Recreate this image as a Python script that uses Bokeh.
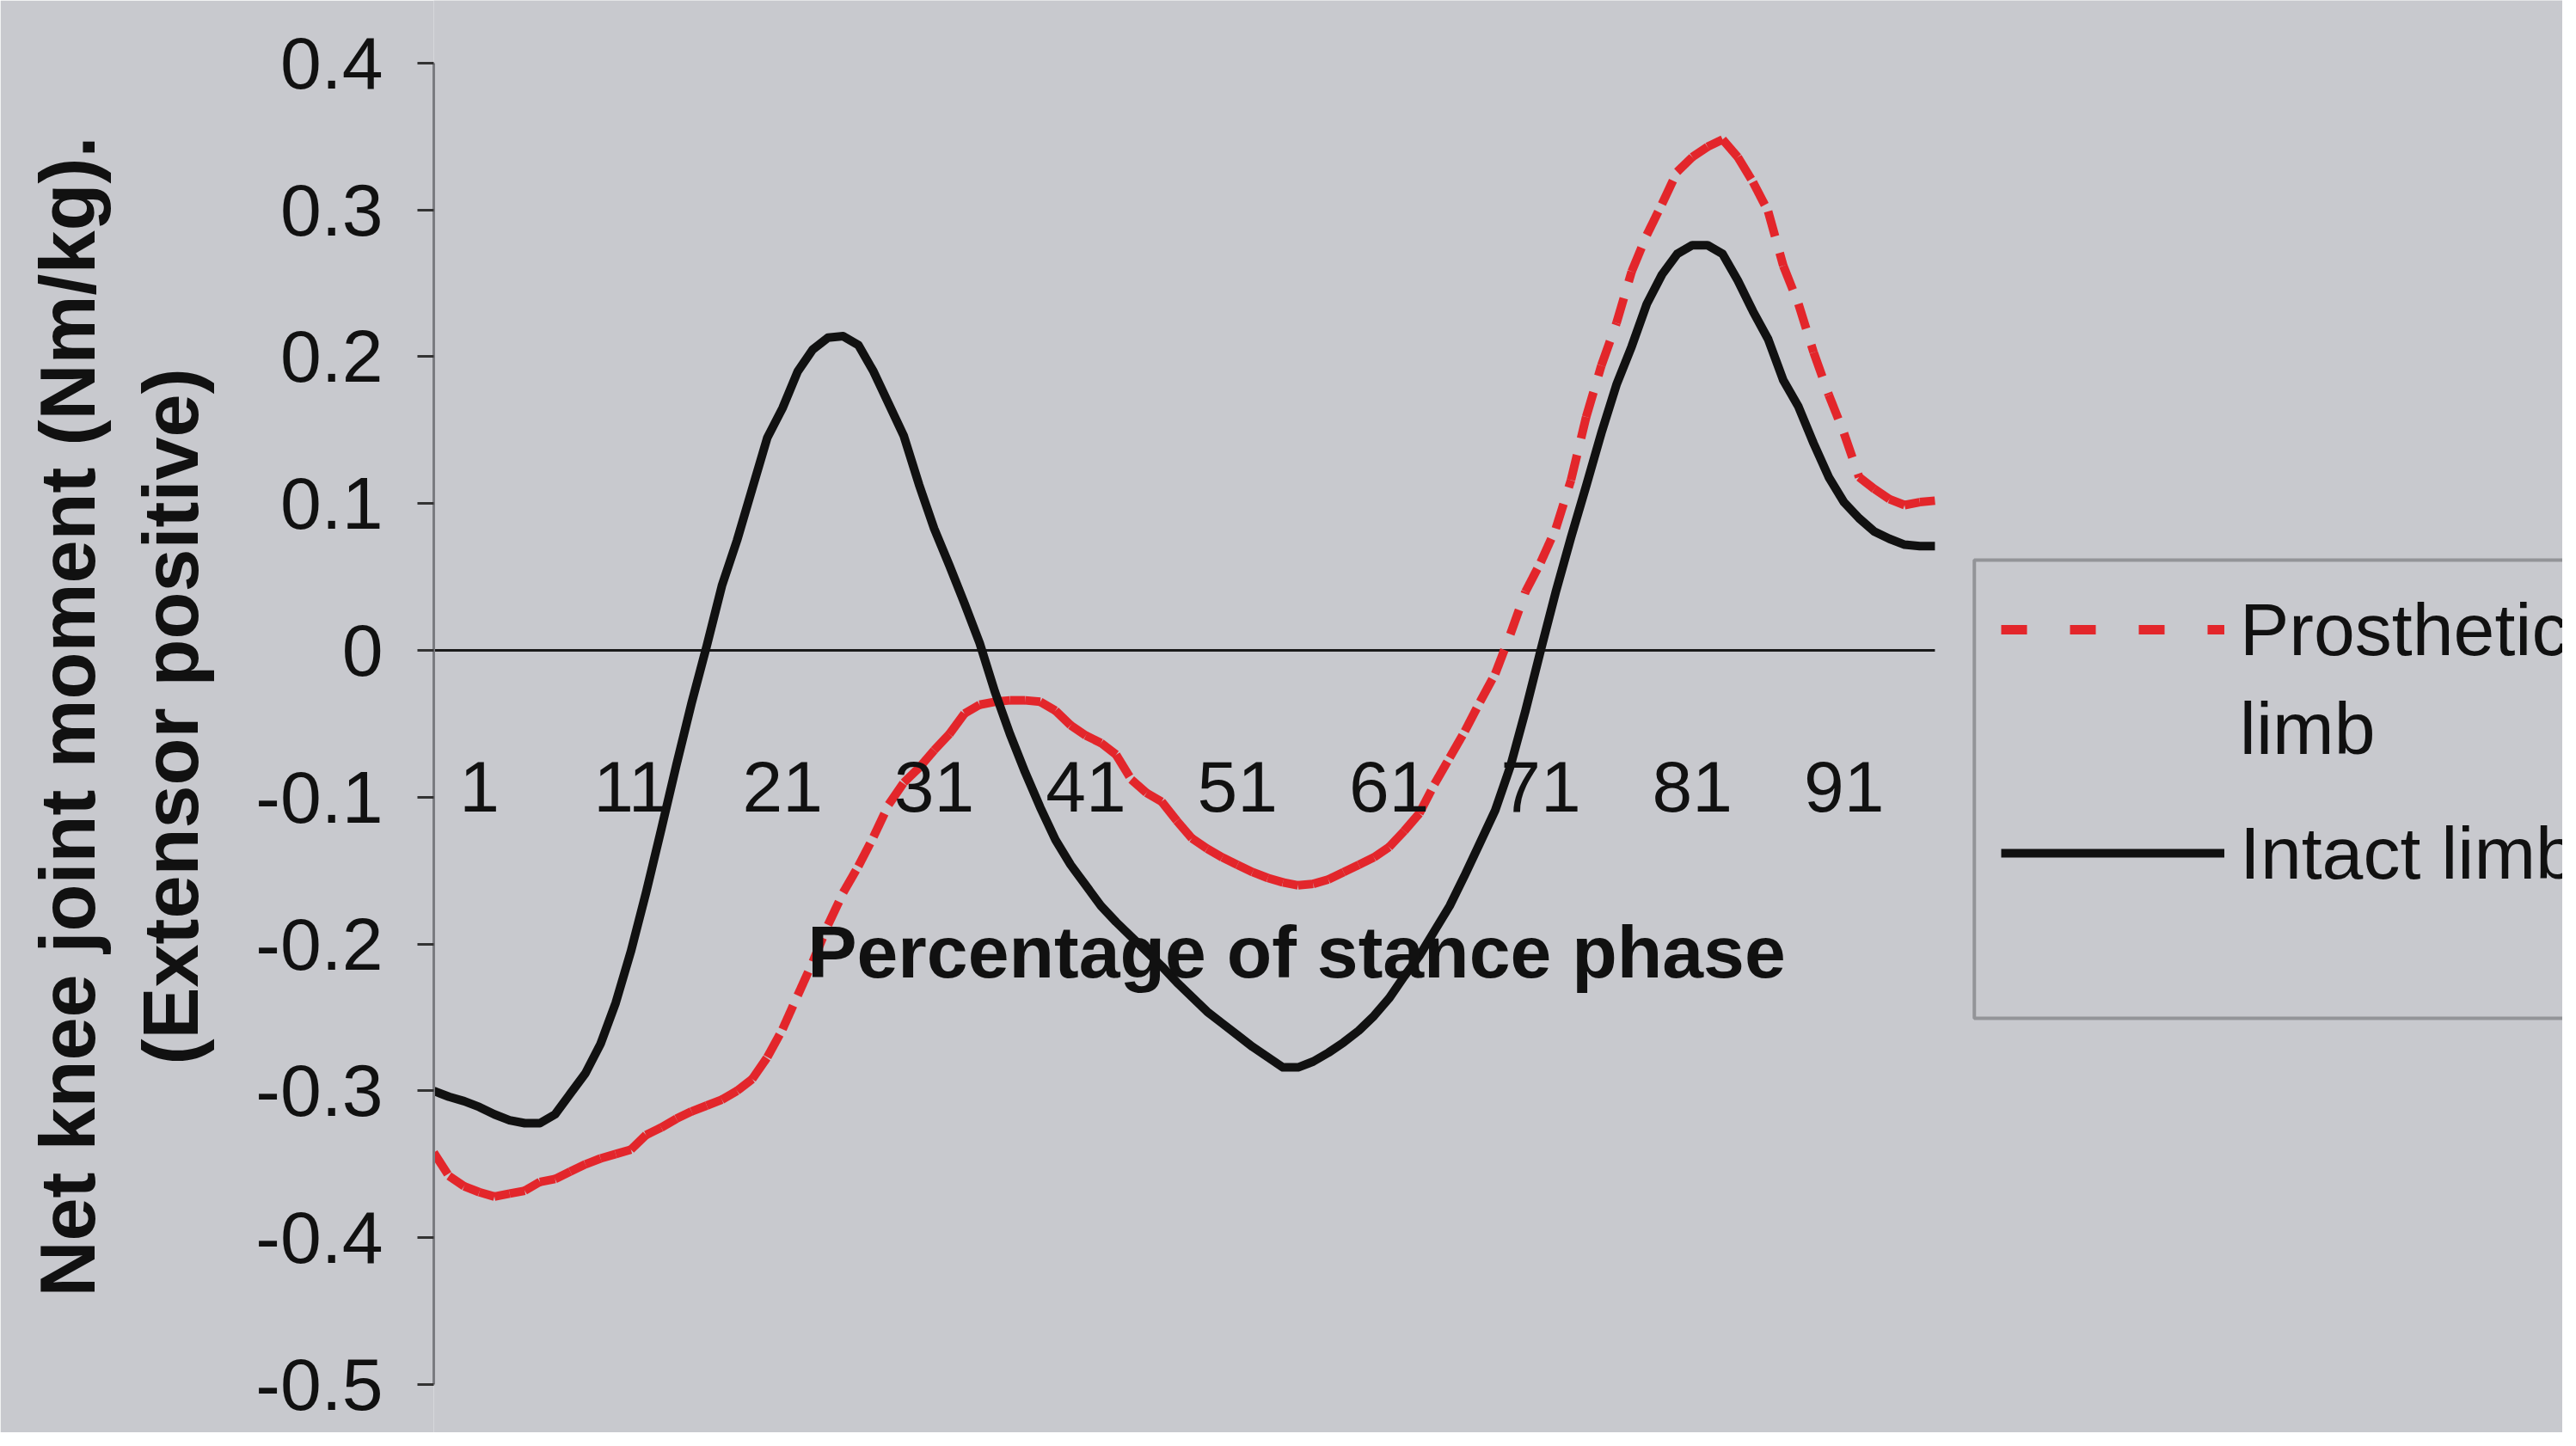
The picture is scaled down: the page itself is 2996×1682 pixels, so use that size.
from bokeh.plotting import figure
from bokeh.models import Range1d, FixedTicker, Legend, LegendItem, Label, BoxAnnotation
from bokeh.embed import file_html
from bokeh.resources import INLINE
from bokeh.core.properties import value

# ---------------- data ----------------
PCT = list(range(1, 101))  # stance-phase categories 1..100

INTACT = [
    -0.300, -0.304, -0.307, -0.311, -0.316, -0.320, -0.322, -0.322, -0.316, -0.302,
    -0.288, -0.268, -0.240, -0.205, -0.165, -0.122, -0.078, -0.036, 0.003, 0.044,
    0.075, 0.110, 0.145, 0.165, 0.190, 0.205, 0.213, 0.214, 0.208, 0.190,
    0.168, 0.146, 0.113, 0.083, 0.058, 0.032, 0.005, -0.028, -0.057, -0.083,
    -0.107, -0.129, -0.146, -0.160, -0.174, -0.185, -0.195, -0.205, -0.215, -0.226,
    -0.236, -0.246, -0.254, -0.262, -0.270, -0.277, -0.284, -0.284, -0.280, -0.274,
    -0.267, -0.259, -0.249, -0.237, -0.222, -0.208, -0.191, -0.174, -0.153, -0.131,
    -0.109, -0.079, -0.041, 0.000, 0.040, 0.077, 0.112, 0.148, 0.181, 0.207,
    0.236, 0.256, 0.270, 0.276, 0.276, 0.270, 0.252, 0.231, 0.212, 0.184,
    0.166, 0.141, 0.118, 0.101, 0.090, 0.081, 0.076, 0.072, 0.071, 0.071,
]

PROSTHETIC = [
    -0.342, -0.358, -0.365, -0.369, -0.372, -0.370, -0.368, -0.362, -0.360, -0.355,
    -0.350, -0.346, -0.343, -0.340, -0.330, -0.325, -0.319, -0.314, -0.310, -0.306,
    -0.300, -0.292, -0.277, -0.258, -0.235, -0.212, -0.187, -0.165, -0.147, -0.127,
    -0.105, -0.090, -0.080, -0.068, -0.057, -0.043, -0.037, -0.035, -0.034, -0.034,
    -0.035, -0.041, -0.051, -0.058, -0.063, -0.071, -0.088, -0.097, -0.103, -0.116,
    -0.128, -0.135, -0.141, -0.146, -0.151, -0.155, -0.158, -0.160, -0.159, -0.156,
    -0.151, -0.146, -0.141, -0.134, -0.123, -0.111, -0.091, -0.073, -0.055, -0.035,
    -0.016, 0.011, 0.040, 0.060, 0.083, 0.116, 0.159, 0.194, 0.223, 0.258,
    0.283, 0.304, 0.326, 0.336, 0.343, 0.348, 0.336, 0.319, 0.299, 0.262,
    0.236, 0.203, 0.174, 0.148, 0.118, 0.110, 0.103, 0.099, 0.101, 0.102,
]

X_TICKS = [1, 11, 21, 31, 41, 51, 61, 71, 81, 91]
X_TICK_LABELS = ["1", "11", "21", "31", "41", "51", "61", "71", "81", "91"]
Y_TICKS = [-0.5, -0.4, -0.3, -0.2, -0.1, 0, 0.1, 0.2, 0.3, 0.4]
Y_TICK_LABELS = ["-0.5", "-0.4", "-0.3", "-0.2", "-0.1", "0", "0.1", "0.2", "0.3", "0.4"]
SERIES_NAMES = ["Prosthetic", "Intact limb"]
SERIES_NAME_CONT = "limb"   # second line of the wrapped "Prosthetic limb" legend entry
X_TITLE = "Percentage of stance phase"
Y_TITLE = "Net knee joint moment (Nm/kg).\n(Extensor positive)"

# ---------------- style ----------------
BG = "#c8c9ce"
INK = "#111111"
RED = "#e3262b"
FONT = "Liberation Sans"

p = figure(
    width=2980, height=1666,
    output_backend="svg", toolbar_location=None,
    x_range=Range1d(1, 141.4), y_range=Range1d(-0.5328, 0.4427),
    x_axis_location=None, y_axis_location="left",
    min_border_left=504, min_border_right=0, min_border_top=0, min_border_bottom=0,
    background_fill_color=BG, border_fill_color=BG, outline_line_color=None,
)
p.grid.grid_line_color = None

ax = p.yaxis[0]
ax.ticker = FixedTicker(ticks=Y_TICKS)
ax.major_label_overrides = dict(zip(Y_TICKS, Y_TICK_LABELS))
ax.bounds = (Y_TICKS[0], Y_TICKS[-1])
ax.axis_line_color = "#7a7b80"
ax.axis_line_width = 3
ax.major_tick_line_color = "#333333"
ax.major_tick_line_width = 3
ax.major_tick_out = 19
ax.major_tick_in = 0
ax.minor_tick_line_color = None
ax.major_label_text_font = FONT
ax.major_label_text_font_size = "86px"
ax.major_label_text_color = INK
ax.major_label_standoff = 40
ax.axis_label = Y_TITLE
ax.axis_label_text_font = FONT
ax.axis_label_text_font_size = "90px"
ax.axis_label_text_font_style = "bold"
ax.axis_label_text_color = INK
ax.axis_label_standoff = 45

# zero (category) axis line
p.line(x=[PCT[0], PCT[-1]], y=[0, 0], line_color="#1a1a1a", line_width=3)

# prosthetic limb: dashed, pattern restarts at every segment (Excel-like)
seg_x = [[PCT[i], PCT[i + 1]] for i in range(len(PCT) - 1)]
seg_y = [[PROSTHETIC[i], PROSTHETIC[i + 1]] for i in range(len(PCT) - 1)]
p.multi_line(seg_x, seg_y, line_color=RED, line_width=10, line_dash="30 20")
# same series, only used as the legend swatch (longer dash pattern, as in the legend)
red_key = p.line(PCT, PROSTHETIC, line_color=RED, line_width=11, line_dash="30 50",
                 visible=False)

# intact limb
blk = p.line(PCT, INTACT, line_color=INK, line_width=10, line_join="round")

# category tick labels below the zero line
p.text(x=X_TICKS, y=[-0.0925] * len(X_TICKS), text=X_TICK_LABELS,
       x_offset=53, text_align="center", text_baseline="alphabetic",
       text_font=value(FONT), text_font_size="84px", text_color=INK)

p.add_layout(Label(x=57.9, y=-0.205, text=X_TITLE, text_align="center",
                   text_baseline="alphabetic", text_font=FONT, text_font_size="86px",
                   text_font_style="bold", text_color=INK))

# legend frame
p.add_layout(BoxAnnotation(left=102.6, right=200, top=0.0615, bottom=-0.2505,
                           fill_alpha=0, line_color="#1a1a1a", line_width=4))

legend = Legend(
    items=[LegendItem(label=SERIES_NAMES[0], renderers=[red_key]),
           LegendItem(label=SERIES_NAMES[1], renderers=[blk])],
    location=(1823, 624),
    label_text_font=FONT, label_text_font_size="86px", label_text_color=INK,
    glyph_width=260, glyph_height=100, label_standoff=18,
    padding=0, margin=0, spacing=160,
    border_line_alpha=0, background_fill_alpha=0, inactive_fill_alpha=0,
)
p.add_layout(legend)

# wrapped second line of the prosthetic legend entry
p.add_layout(Label(x=120.1, y=-0.053, text=SERIES_NAME_CONT, text_align="left",
                   text_baseline="alphabetic", text_font=FONT, text_font_size="86px",
                   text_color=INK))

open("out.html", "w").write(file_html(p, INLINE))
